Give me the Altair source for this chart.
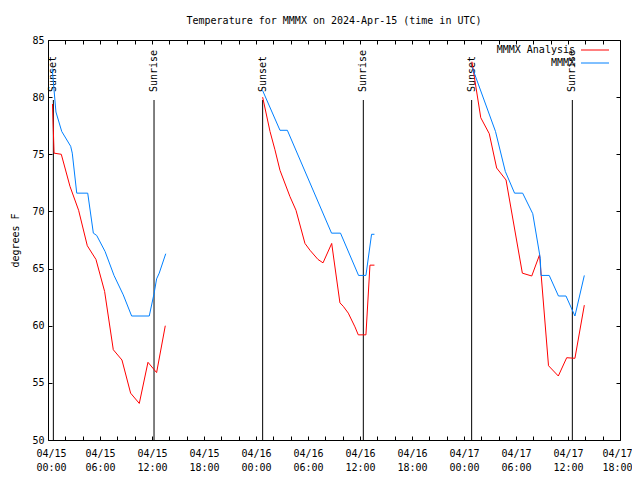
import altair as alt
import pandas as pd

FONT = "DejaVu Sans Mono"

series_names = ["MMMX Analysis", "MMMX"]
series_colors = ["#ff0000", "#0080ff"]

# Night of 04/15
an1_time = ["2024-04-15T00:31", "2024-04-15T00:42", "2024-04-15T01:32", "2024-04-15T02:32",
            "2024-04-15T03:32", "2024-04-15T04:32", "2024-04-15T05:32", "2024-04-15T06:32",
            "2024-04-15T07:32", "2024-04-15T08:32", "2024-04-15T09:32", "2024-04-15T10:32",
            "2024-04-15T11:32", "2024-04-15T12:32", "2024-04-15T13:32"]
an1_temp = [79.4, 75.1, 75.0, 72.2, 70.1, 67.0, 65.8, 63.0, 57.9, 57.0, 54.1, 53.2, 56.8, 55.9, 60.0]

ob1_time = ["2024-04-15T00:29", "2024-04-15T00:55", "2024-04-15T01:35", "2024-04-15T02:37",
            "2024-04-15T02:48", "2024-04-15T03:19", "2024-04-15T04:35", "2024-04-15T05:14",
            "2024-04-15T05:37", "2024-04-15T06:35", "2024-04-15T07:37", "2024-04-15T08:41",
            "2024-04-15T09:39", "2024-04-15T11:41", "2024-04-15T12:14", "2024-04-15T12:32",
            "2024-04-15T12:50", "2024-04-15T13:35"]
ob1_temp = [82.5, 78.7, 77.0, 75.7, 75.1, 71.6, 71.6, 68.1, 67.9, 66.5, 64.4, 62.7,
            60.85, 60.85, 62.8, 64.1, 64.6, 66.3]

# Night of 04/16
an2_time = ["2024-04-16T00:46", "2024-04-16T01:37", "2024-04-16T02:11", "2024-04-16T02:46",
            "2024-04-16T03:55", "2024-04-16T04:37", "2024-04-16T05:39", "2024-04-16T06:14",
            "2024-04-16T07:09", "2024-04-16T07:44", "2024-04-16T08:44", "2024-04-16T09:41",
            "2024-04-16T10:04", "2024-04-16T10:39", "2024-04-16T11:25", "2024-04-16T11:48",
            "2024-04-16T12:41", "2024-04-16T13:09", "2024-04-16T13:40"]
an2_temp = [80.0, 77.0, 75.4, 73.6, 71.3, 70.1, 67.2, 66.6, 65.8, 65.5, 67.2, 62.0,
            61.7, 61.1, 59.9, 59.2, 59.2, 65.3, 65.3]

ob2_time = ["2024-04-16T00:45", "2024-04-16T02:46", "2024-04-16T03:37", "2024-04-16T08:43",
            "2024-04-16T09:45", "2024-04-16T11:50", "2024-04-16T12:41", "2024-04-16T13:20",
            "2024-04-16T13:40"]
ob2_temp = [80.6, 77.1, 77.1, 68.1, 68.1, 64.4, 64.4, 68.0, 68.0]

# Night of 04/17
an3_time = ["2024-04-17T00:55", "2024-04-17T01:56", "2024-04-17T02:55", "2024-04-17T03:46",
            "2024-04-17T04:51", "2024-04-17T06:44", "2024-04-17T07:49", "2024-04-17T08:43",
            "2024-04-17T09:45", "2024-04-17T10:53", "2024-04-17T11:51", "2024-04-17T12:48",
            "2024-04-17T13:53"]
an3_temp = [83.1, 78.2, 76.8, 73.8, 72.75, 64.6, 64.35, 66.2, 56.5, 55.6, 57.2, 57.15, 61.8]

ob3_time = ["2024-04-17T00:57", "2024-04-17T03:38", "2024-04-17T04:46", "2024-04-17T05:50",
            "2024-04-17T06:46", "2024-04-17T07:56", "2024-04-17T08:48", "2024-04-17T08:53",
            "2024-04-17T09:50", "2024-04-17T10:54", "2024-04-17T11:46", "2024-04-17T12:48",
            "2024-04-17T13:53"]
ob3_temp = [82.6, 77.0, 73.5, 71.6, 71.6, 69.8, 65.9, 64.4, 64.4, 62.6, 62.6, 60.85, 64.4]

sun_time = ["2024-04-15T00:37", "2024-04-15T12:14", "2024-04-16T00:46",
            "2024-04-16T12:23", "2024-04-17T00:53", "2024-04-17T12:30"]
sun_label = ["Sunset", "Sunrise", "Sunset", "Sunrise", "Sunset", "Sunrise"]

y_ticks = [50, 55, 60, 65, 70, 75, 80, 85]

rows = []
for night, (at, av, ot, ov) in enumerate([(an1_time, an1_temp, ob1_time, ob1_temp),
                                          (an2_time, an2_temp, ob2_time, ob2_temp),
                                          (an3_time, an3_temp, ob3_time, ob3_temp)]):
    for t, v in zip(at, av):
        rows.append({"time": t + ":00Z", "temp": v, "series": series_names[0], "night": night})
    for t, v in zip(ot, ov):
        rows.append({"time": t + ":00Z", "temp": v, "series": series_names[1], "night": night})
df = pd.DataFrame(rows)

sun_df = pd.DataFrame({"time": [t + ":00Z" for t in sun_time], "label": sun_label})

x_start = alt.DateTime(year=2024, month=4, date=15, hours=0, utc=True)
x_end = alt.DateTime(year=2024, month=4, date=17, hours=18, utc=True)
x_scale = alt.Scale(type="utc", domain=[x_start, x_end])
y_scale = alt.Scale(domain=[50, 85], nice=False, zero=False)

tick_vals = [int(ts.value // 10**6) for ts in
             pd.date_range("2024-04-15 00:00", "2024-04-17 18:00", freq="2h", tz="UTC")]

TK = 4
x_axis_bottom = alt.Axis(
    values=tick_vals, domain=False, offset=-TK, tickSize=TK, labelPadding=8,
    labelExpr="utchours(datum.value) % 6 == 0 ? [utcFormat(datum.value, '%m/%d'), utcFormat(datum.value, '%H:%M')] : ''",
    labelOverlap=False, labelFlush=True, labelFlushOffset=12, labelLineHeight=14,
    labelBaseline="top", grid=False, title=None)
x_axis_top = alt.Axis(values=tick_vals, orient="top", domain=False, offset=-TK, tickSize=TK,
                      labels=False, grid=False, title=None)
y_axis_left = alt.Axis(values=y_ticks, domain=False, offset=-TK, tickSize=TK, labelPadding=4,
                       grid=False, title="degrees F", titleFontWeight="normal",
                       titleFont=FONT, titleFontSize=10, titleX=-37, titleY=200,
                       titleAngle=270, titleAlign="center", titleBaseline="middle")
y_axis_right = alt.Axis(values=y_ticks, orient="right", domain=False, offset=-TK, tickSize=TK,
                        labels=False, grid=False, title=None)

# blank (non-trimmed) padding so the right-aligned labels sit left of their line samples
PAD = "\u2800" * 4
lines = alt.Chart(df).mark_line(strokeWidth=1).encode(
    x=alt.X("time:T", scale=x_scale, axis=x_axis_bottom),
    y=alt.Y("temp:Q", scale=y_scale, axis=y_axis_left),
    color=alt.Color("series:N", scale=alt.Scale(domain=series_names, range=series_colors),
                    legend=alt.Legend(title=None, orient="none", legendX=528, legendY=5,
                                      symbolType="M-4,0H4", symbolSize=49, symbolStrokeWidth=1,
                                      symbolOffset=14,
                                      labelAlign="right", labelOffset=3, labelFont=FONT,
                                      labelExpr="datum.label + '" + PAD + "'",
                                      labelFontSize=10, labelColor="black", rowPadding=3,
                                      labelLimit=0)),
    detail="night:N",
)

rules = alt.Chart(sun_df).mark_rule(color="black", strokeWidth=1).encode(
    x=alt.X("time:T", scale=x_scale, axis=x_axis_top),
    y=alt.Y(datum=50, type="quantitative", scale=y_scale, axis=y_axis_right),
    y2=alt.Y2(datum=79.75),
)

texts = alt.Chart(sun_df).mark_text(angle=270, align="left", baseline="middle",
                                    font=FONT, fontSize=10, color="black").encode(
    x=alt.X("time:T", scale=x_scale, axis=None),
    y=alt.Y(datum=80.45, type="quantitative", scale=y_scale, axis=None),
    text="label:N",
)

chart = alt.layer(rules, texts, lines).resolve_axis(x="independent", y="independent").properties(
    width=572, height=400,
    padding={"left": 40, "top": 32, "right": 12, "bottom": 32},
    autosize=alt.AutoSizeParams(type="none"),
    title=alt.TitleParams("Temperature for MMMX on 2024-Apr-15 (time in UTC)", font=FONT,
                          fontSize=10, fontWeight="normal", color="black", anchor="middle",
                          baseline="middle", offset=4),
).configure_view(stroke="black", strokeWidth=1).configure_axis(
    labelFont=FONT, labelFontSize=10, labelColor="black", tickColor="black", titleColor="black"
)

chart.save("out.html", embed_options={"renderer": "svg", "actions": False})
